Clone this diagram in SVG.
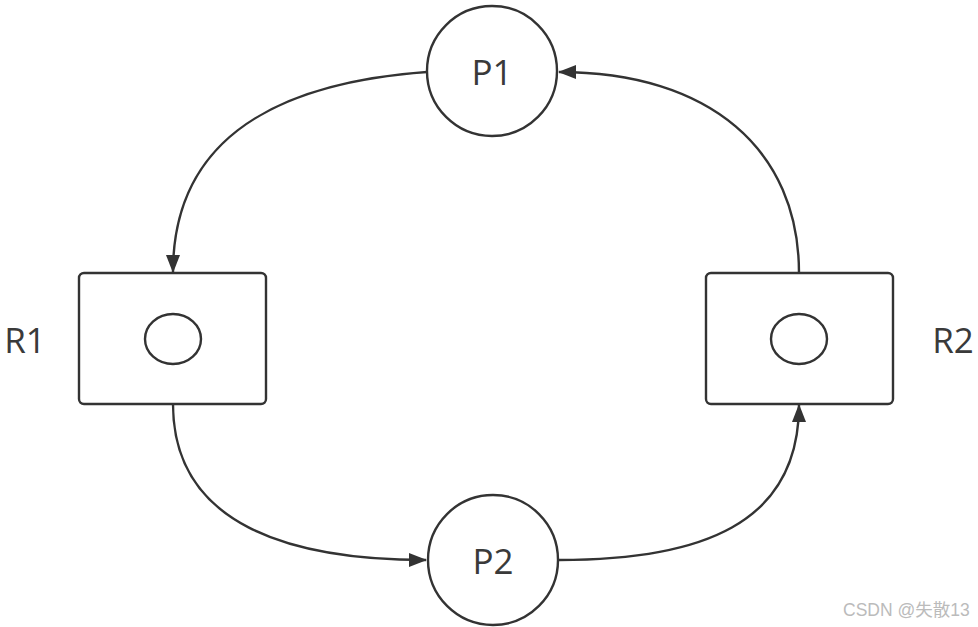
<svg xmlns="http://www.w3.org/2000/svg" width="978" height="627" viewBox="0 0 978 627">
<style>
.shape{fill:#fff;stroke:#333;stroke-width:2.4}
.edge{fill:none;stroke:#333;stroke-width:2.4}
.lbl{font-family:"Open Sans","Liberation Sans",sans-serif;font-size:35px;fill:#3a3a3a;text-anchor:middle;dominant-baseline:central}
.wm{font-family:"Liberation Sans","Noto Sans CJK SC",sans-serif;font-size:17.5px;fill:#bbb}
</style>
<defs>
<marker id="arr" markerWidth="18" markerHeight="14" refX="17" refY="7" orient="auto" markerUnits="userSpaceOnUse">
<path d="M0,0 L18,7 L0,14 Z" fill="#333"/>
</marker>
</defs>
<rect width="978" height="627" fill="#fff"/>
<g id="connectors">
<path class="edge" d="M427,72 C260,84 173,150 173,272" marker-end="url(#arr)"/>
<path class="edge" d="M173,404 C173,525 290,560 426,560" marker-end="url(#arr)"/>
<path class="edge" d="M559,560 C700,560 799,525 799,405" marker-end="url(#arr)"/>
<path class="edge" d="M799,273 C799,150 710,72 559,72" marker-end="url(#arr)"/>
</g>
<g id="P1">
<circle class="shape" cx="492" cy="71" r="65"/>
<text class="lbl" x="492" y="71">P1</text>
</g>
<g id="P2">
<circle class="shape" cx="493" cy="560" r="65"/>
<text class="lbl" x="493" y="560">P2</text>
</g>
<g id="R1">
<rect class="shape" x="79" y="273" width="187" height="131" rx="5"/>
<ellipse class="shape" cx="173" cy="339" rx="28" ry="25"/>
<text class="lbl" x="25" y="339">R1</text>
</g>
<g id="R2">
<rect class="shape" x="706" y="273" width="187" height="131" rx="5"/>
<ellipse class="shape" cx="799" cy="339" rx="28" ry="25"/>
<text class="lbl" x="953" y="339">R2</text>
</g>
<text class="wm" x="843" y="616">CSDN @失散13</text>
</svg>
